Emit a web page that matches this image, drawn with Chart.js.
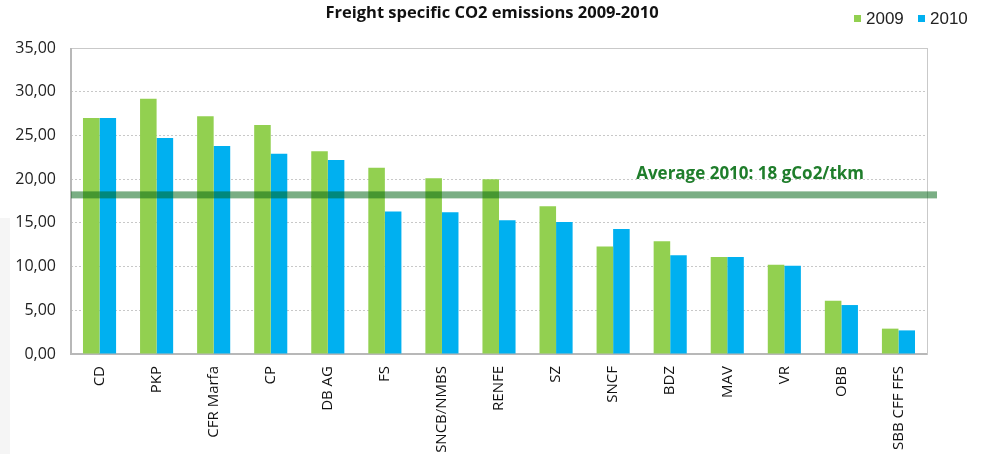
<!DOCTYPE html>
<html>
<head>
<meta charset="utf-8">
<script src="https://cdn.jsdelivr.net/npm/chart.js@4.4.1/dist/chart.umd.min.js"></script>
<style>
  html, body { margin: 0; padding: 0; background: #fff; }
  #wrap { width: 984px; height: 454px; position: relative; }
</style>
</head>
<body>
<div id="wrap"><canvas id="co2Chart" width="984" height="454"></canvas></div>
<script>
// Data
const operators = ["CD", "PKP", "CFR Marfa", "CP", "DB AG", "FS", "SNCB/NMBS", "RENFE", "SZ", "SNCF", "BDZ", "MAV", "VR", "OBB", "SBB CFF FFS"];
const values2009 = [27.0, 29.2, 27.2, 26.2, 23.2, 21.3, 20.1, 20.0, 16.9, 12.3, 12.9, 11.1, 10.2, 6.1, 2.9];
const values2010 = [27.0, 24.7, 23.8, 22.9, 22.2, 16.3, 16.2, 15.3, 15.1, 14.3, 11.3, 11.1, 10.1, 5.6, 2.7];
const yTicks = [0, 5, 10, 15, 20, 25, 30, 35];
const average2010 = 18.2;
const averageLabel = "Average 2010: 18 gCo2/tkm";

const FONT = "'Open Sans', 'DejaVu Sans', sans-serif";

// Frame, title, legend and the average band
const decorPlugin = {
  id: "decor",
  beforeDraw(chart) {
    const ctx = chart.ctx;
    ctx.save();
    ctx.fillStyle = "#f5f5f5";
    ctx.fillRect(0, 218, 10, 236);
    ctx.restore();
  },
  beforeDatasetsDraw(chart) {
    const { ctx, chartArea: a } = chart;
    ctx.save();
    ctx.strokeStyle = "#c9c9c9";
    ctx.lineWidth = 1;
    ctx.strokeRect(a.left + 0.5, a.top + 0.5, a.right - a.left, a.bottom - a.top);
    ctx.strokeStyle = "#b8b8b8";
    ctx.lineWidth = 2;
    ctx.beginPath();
    ctx.moveTo(a.left, a.top);
    ctx.lineTo(a.left, a.bottom);
    ctx.lineTo(a.right, a.bottom);
    ctx.stroke();
    ctx.restore();
  },
  afterDatasetsDraw(chart) {
    const { ctx, chartArea: a, scales } = chart;
    const y = scales.y.getPixelForValue(average2010);
    ctx.save();
    ctx.fillStyle = "rgba(0, 100, 20, 0.52)";
    ctx.fillRect(a.left, y - 3.5, a.right - a.left + 10, 7);
    ctx.fillStyle = "#1f7d2b";
    ctx.font = "bold 17px " + FONT;
    ctx.textAlign = "right";
    ctx.textBaseline = "alphabetic";
    ctx.fillText(averageLabel, a.right - 63, y - 16);
    ctx.restore();
  },
  afterDraw(chart) {
    const ctx = chart.ctx;
    ctx.save();
    // title
    ctx.fillStyle = "#111";
    ctx.font = "bold 16.5px " + FONT;
    ctx.textAlign = "center";
    ctx.textBaseline = "middle";
    ctx.fillText("Freight specific CO2 emissions 2009-2010", 492, 13);
    // legend
    ctx.font = "17px 'Liberation Sans', Arial, sans-serif";
    ctx.textAlign = "left";
    let x = 854;
    chart.data.datasets.forEach((ds) => {
      ctx.fillStyle = ds.backgroundColor;
      ctx.fillRect(x, 15, 7, 7);
      ctx.fillStyle = "#222";
      ctx.fillText(ds.label, x + 12, 19);
      x += 64;
    });
    ctx.restore();
  },
};

const chartCtx = document.getElementById("co2Chart").getContext("2d");
const co2Chart = new Chart(chartCtx, {
  type: "bar",
  data: {
    labels: operators,
    datasets: [
      {
        label: "2009",
        data: values2009,
        backgroundColor: "#92d050",
        borderWidth: 0,
      },
      {
        label: "2010",
        data: values2010,
        backgroundColor: "#00b0f0",
        borderWidth: 0,
      },
    ],
  },
  options: {
    responsive: false,
    animation: false,
    layout: {
      padding: { top: 48, right: 57, left: 0, bottom: 0 },
    },
    datasets: {
      bar: {
        barPercentage: 1,
        categoryPercentage: 0.58,
      },
    },
    plugins: {
      legend: { display: false },
      title: { display: false },
      tooltip: { enabled: false },
    },
    scales: {
      x: {
        grid: { display: false },
        border: { display: false },
        ticks: {
          minRotation: 90,
          maxRotation: 90,
          autoSkip: false,
          color: "#111",
          padding: 4,
          font: { family: FONT, size: 15 },
        },
        afterFit(scale) {
          scale.height = 100;
        },
      },
      y: {
        min: 0,
        max: 35,
        afterBuildTicks(scale) {
          scale.ticks = yTicks.map((v) => ({ value: v }));
        },
        grid: {
          color: "#c8c8c8",
          drawTicks: false,
        },
        border: { display: false, dash: [2, 2] },
        ticks: {
          color: "#222",
          padding: 15,
          font: { family: FONT, size: 16 },
          callback: (v) => v.toFixed(2).replace(".", ","),
        },
        afterFit(scale) {
          scale.width = 71;
        },
      },
    },
  },
  plugins: [decorPlugin],
});
</script>
</body>
</html>
